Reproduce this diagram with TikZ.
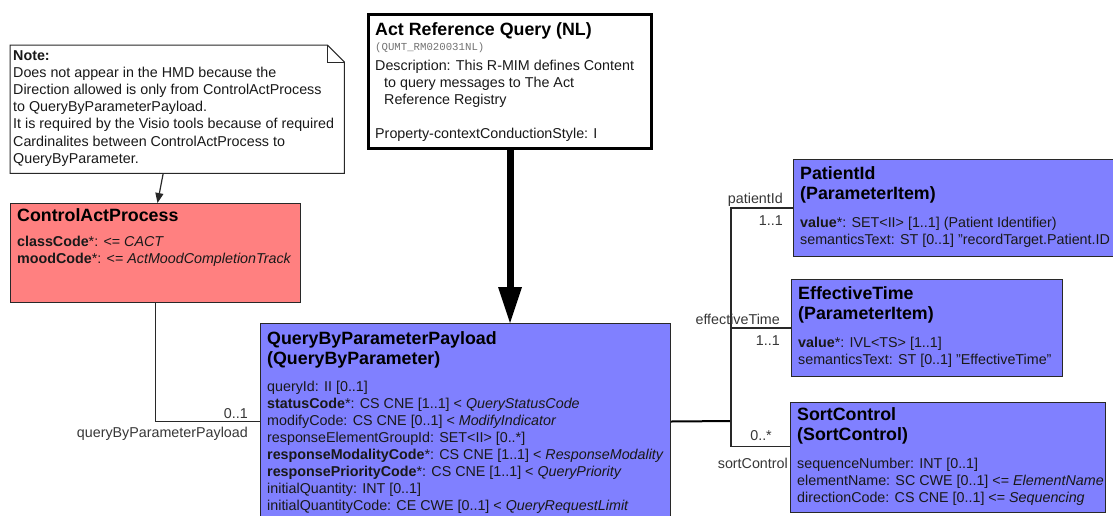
\documentclass[tikz,border=0pt]{standalone}
\usepackage{fontspec}
\setmainfont{Liberation Sans}
\setmonofont{Liberation Mono}
\usetikzlibrary{arrows.meta}
\definecolor{salmonfill}{RGB}{255,128,128}
\definecolor{periw}{RGB}{128,128,255}
\definecolor{bodytxt}{RGB}{25,25,25}
\definecolor{lbltxt}{RGB}{55,55,55}
\definecolor{edge}{RGB}{40,40,40}
\newcommand{\bodyfnt}{\fontsize{14.3}{17.1}\selectfont}
\newcommand{\titlefnt}{\fontsize{17.8}{20}\selectfont\bfseries}
\begin{document}
\begin{tikzpicture}[x=1pt,y=-1pt,
  box/.style={draw=edge, line width=1pt, anchor=north west, inner sep=0pt},
  title/.style={anchor=north west, inner sep=0pt, align=left, font=\titlefnt, text=black},
  txtblk/.style={anchor=north west, inner sep=0pt, align=left, font=\bodyfnt, text=bodytxt},
  lbl/.style={inner sep=0pt, font=\bodyfnt, text=lbltxt, anchor=east},
  conn/.style={draw=edge, line width=1.2pt},
  busline/.style={draw=black, line width=2pt}
]
\path[use as bounding box] (0,0) rectangle (1113,515);
\clip (0,0) rectangle (1113,515);
\fill[white] (0,0) rectangle (1113,515);

% ---------- Note ----------
\node[anchor=north west, inner sep=0pt, minimum width=334pt, minimum height=128pt] (note) at (10,45) {};
\draw[edge, line width=1pt] (note.north west) -- ([xshift=-17pt]note.north east) -- ([yshift=-17pt]note.north east) -- (note.south east) -- (note.south west) -- cycle;
\draw[edge, line width=1pt] ([xshift=-17pt]note.north east) -- ([xshift=-17pt,yshift=-17pt]note.north east) -- ([yshift=-17pt]note.north east);
\node[txtblk] (notetxt) at (13,50.5) {\textbf{Note:}\\
Does not appear in the HMD because the\\
Direction allowed is only from ControlActProcess\\
to QueryByParameterPayload.\\
It is required by the Visio tools because of required\\
Cardinalites between ControlActProcess to\\
QueryByParameter.};

% ---------- Act Reference Query ----------
\node[box, draw=black, line width=3pt, fill=white, minimum width=283pt, minimum height=134pt] (arq) at (367,13) {};
\node[title] (arqtitle) at (375,22) {Act Reference Query (NL)};
\node[anchor=north west, inner sep=0pt, font=\ttfamily\fontsize{10.7}{12}\selectfont, text=black!55] (arqid) at (375,42.5) {(QUMT\_RM020031NL)};
\node[txtblk] (arqtxt) at (375,60) {Description: This R-MIM defines Content\\
\hspace*{9pt}to query messages to The Act\\
\hspace*{9pt}Reference Registry\\
\mbox{}\\
Property-contextConductionStyle: I};

% ---------- ControlActProcess ----------
\node[box, fill=salmonfill, minimum width=290pt, minimum height=99pt] (cap) at (10,203) {};
\node[title] (captitle) at (17,208.5) {ControlActProcess};
\node[txtblk] (captxt) at (17,235.5) {\textbf{classCode}*: <= \textit{CACT}\\
\textbf{moodCode}*: <= \textit{ActMoodCompletionTrack}};

% ---------- QueryByParameterPayload ----------
\node[box, fill=periw, minimum width=410pt, minimum height=200pt] (qbp) at (260,323) {};
\node[title] (qbptitle) at (267,331.5) {QueryByParameterPayload\\(QueryByParameter)};
\node[txtblk] (qbptxt) at (267,380.5) {queryId: II [0..1]\\
\textbf{statusCode}*: CS CNE [1..1] < \textit{QueryStatusCode}\\
modifyCode: CS CNE [0..1] < \textit{ModifyIndicator}\\
responseElementGroupId: SET<II> [0..*]\\
\textbf{responseModalityCode}*: CS CNE [1..1] < \textit{ResponseModality}\\
\textbf{responsePriorityCode}*: CS CNE [1..1] < \textit{QueryPriority}\\
initialQuantity: INT [0..1]\\
initialQuantityCode: CE CWE [0..1] < \textit{QueryRequestLimit}};

% ---------- PatientId ----------
\node[box, fill=periw, minimum width=330pt, minimum height=97pt] (pid) at (793,159) {};
\node[title] (pidtitle) at (800,166.5) {PatientId\\(ParameterItem)};
\node[txtblk] (pidtxt) at (800,216.5) {\textbf{value}*: SET<II> [1..1] (Patient Identifier)\\
semanticsText: ST [0..1] "recordTarget.Patient.ID};

% ---------- EffectiveTime ----------
\node[box, fill=periw, minimum width=271pt, minimum height=97pt] (et) at (791,279) {};
\node[title] (ettitle) at (798,286.5) {EffectiveTime\\(ParameterItem)};
\node[txtblk] (ettxt) at (798,336.5) {\textbf{value}*: IVL<TS> [1..1]\\
semanticsText: ST [0..1] "EffectiveTime"};

% ---------- SortControl ----------
\node[box, fill=periw, minimum width=315pt, minimum height=110pt] (sc) at (790,402) {};
\node[title] (sctitle) at (797,407.5) {SortControl\\(SortControl)};
\node[txtblk] (sctxt) at (797,457.5) {sequenceNumber: INT [0..1]\\
elementName: SC CWE [0..1] <= \textit{ElementName}\\
directionCode: CS CNE [0..1] <= \textit{Sequencing}};

% ---------- connectors ----------
% note -> ControlActProcess
\draw[conn, -{Triangle[width=8pt,length=10pt]}] ([xshift=-14pt]note.south) -- ([xshift=2pt]cap.north);
% Act Reference Query -> payload (thick)
\coordinate (tip) at (arq.south |- qbp.north);
\draw[black, line width=7pt] (arq.south) -- ([yshift=34pt]tip);
\fill[black] (tip) -- ++(-12,-36) -- ++(24,0) -- cycle;
% ControlActProcess -> payload
\draw[conn] (cap.south) |- ([yshift=2pt]qbp.west);
\node[lbl] (l01) at (248,414) {0..1};
\node[lbl] (lqbp) at (248,434) {queryByParameterPayload};
% payload -> parameter bus
\coordinate (busj) at (731,421);
\draw[busline] ([yshift=2pt]qbp.east) -- (busj);
\draw[conn] (pid.west) -| (busj) |- ([yshift=11pt]sc.west);
\draw[conn] (et.west) -- (et.west -| busj);
\node[lbl] (lpid) at (783,200) {patientId};
\node[lbl] (lpidm) at (783,221) {1..1};
\node[lbl] (let) at (780,319) {effectiveTime};
\node[lbl] (letm) at (780,341) {1..1};
\node[lbl] (lscm) at (772,436) {0..*};
\node[lbl] (lsc) at (788,463) {sortControl};
\end{tikzpicture}
\end{document}
